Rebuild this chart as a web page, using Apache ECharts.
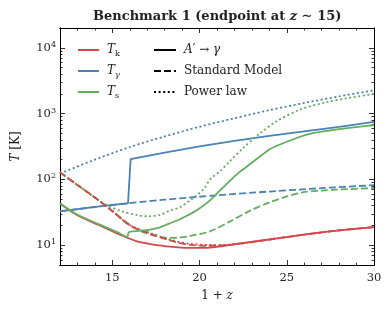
<!DOCTYPE html>
<html><head><meta charset="utf-8">
<script src="https://cdn.jsdelivr.net/npm/echarts@6/dist/echarts.min.js"></script>
<style>html,body{margin:0;padding:0;background:#fff}#c{width:391px;height:317px}</style>
</head><body><div id="c"></div>
<script>
// ---- data (1+z, temperature in K) ----
const zTkA  = [12, 13, 14.18, 15, 15.85, 16.47, 17.2, 18.3, 19.45, 20.6, 22.1, 24, 25.9, 27.9, 30];
const TkA   = [43, 28.5, 20.5, 16.3, 13.0, 11.3, 10.4, 9.5, 9.1, 9.2, 10.5, 12.2, 14.4, 16.7, 18.8];
const zTkSM = [12, 13, 14, 15, 16, 17.2, 18.3, 19.45, 20.6, 21.75, 24, 25.9, 27.9, 30];
const TkSM  = [128, 82, 53, 33, 20, 14.9, 11.8, 10.1, 9.8, 10.1, 12.2, 14.4, 16.7, 18.8];
const zTkPL = [12, 13, 14, 15, 16, 17.2, 18.3, 19.45, 20.6, 21.75, 24, 25.9, 27.9, 30];
const TkPL  = [128, 82, 53, 33, 20.3, 15.2, 12.1, 10.5, 10.1, 10.2, 12.2, 14.4, 16.7, 18.8];

const zTgA  = [12, 14, 15.9, 16.05, 18, 20, 22, 24, 26, 28, 30];
const TgA   = [32.7, 38.2, 43.3, 204, 256, 317, 385, 458, 537, 630, 748];
const zTgSM = [12, 15, 18, 21, 24, 27, 30];
const TgSM  = [32.7, 40.9, 49.1, 57.2, 65.4, 73.6, 81.8];
const zTgPL = [12, 14, 16, 18, 20, 22, 24, 26, 28, 30];
const TgPL  = [123, 200, 310, 450, 630, 850, 1130, 1450, 1830, 2265];

const zTsA  = [12, 13, 14.18, 15.3, 15.85, 15.95, 17, 17.73, 18.3, 18.9, 19.84, 20.6, 21.75, 22.3, 22.9, 24, 24.5, 25.76, 26.5, 28, 30];
const TsA   = [43, 29, 21.1, 15.7, 13.2, 15.8, 17, 18.7, 21.5, 25, 34, 48, 96, 130, 171, 285, 330, 445, 505, 580, 670];
const zTsSM = [12, 13, 14, 15, 16, 16.7, 17.5, 18.3, 18.9, 19.5, 20.6, 21.75, 22.9, 24.04, 25, 25.9, 27, 27.9, 30];
const TsSM  = [128, 82, 53, 33, 20.5, 16, 13.8, 12.9, 13.1, 13.9, 16.2, 23, 33.5, 45, 55, 63.5, 67.5, 70, 74];
const zTsPL = [12, 13, 14, 14.35, 14.75, 15.5, 16.47, 17.06, 17.73, 18.3, 18.9, 19.45, 19.84, 20.3, 20.6, 21.2, 21.75, 22.5, 23.5, 24.4, 25.76, 27.3, 28.5, 30];
const TsPL  = [128, 82, 53, 46, 40, 33, 28.5, 27.5, 29, 33.5, 38, 48, 57, 75, 100, 135, 190, 300, 510, 760, 1150, 1500, 1720, 1990];

const xMajor = [15, 20, 25, 30];
const xMinor = [13, 14, 16, 17, 18, 19, 21, 22, 23, 24, 26, 27, 28, 29];
const yMajor = [10, 100, 1000, 10000];
const yMinor = [6, 7, 8, 9, 20, 30, 40, 50, 60, 70, 80, 90, 200, 300, 400, 500, 600, 700, 800, 900,
                2000, 3000, 4000, 5000, 6000, 7000, 8000, 9000];

const RED = '#d3494b', BLUE = '#4b82b3', GREEN = '#63ad5f';
const FONT = 'DejaVu Serif';
const SOLID = 'solid', DASH = [7, 3], DOT = [2, 2.6];
const TXT = '#222';

function pairs(zs, vs) { return zs.map((z, i) => [z, vs[i]]); }

const mathRich = {
  i: { fontFamily: FONT, fontStyle: 'italic', fontSize: 12, color: TXT, lineHeight: 16 },
  sub: { fontFamily: FONT, fontSize: 8, color: TXT, verticalAlign: 'bottom', lineHeight: 16 },
  subi: { fontFamily: FONT, fontStyle: 'italic', fontSize: 8, color: TXT, verticalAlign: 'bottom', lineHeight: 16 },
  sup: { fontFamily: FONT, fontSize: 8, color: TXT, verticalAlign: 'top', lineHeight: 14 },
  r: { fontFamily: FONT, fontSize: 12, color: TXT, lineHeight: 16 },
  rt: { fontFamily: FONT, fontSize: 11.5, color: TXT, lineHeight: 14 }
};

function curve(name, zs, vs, color, dash) {
  return {
    type: 'line', name: name, data: pairs(zs, vs), symbol: 'none',
    smooth: 0.3, silent: true,
    lineStyle: { color: color, width: 1.8, type: dash, cap: 'butt' },
    itemStyle: { color: color }, z: 3
  };
}
function dummy(name, color, dash) {
  return { type: 'line', name: name, data: [[12, null]], symbol: 'none', showSymbol: false,
    lineStyle: { color: color, width: 2, type: dash }, itemStyle: { color: color } };
}

const axisLineBlack = { show: true, lineStyle: { color: '#000', width: 1 } };
function xAx(pos, vals, len, labels) {
  return { type: 'value', min: 12, max: 30, position: pos, splitLine: { show: false },
    axisLine: axisLineBlack,
    axisTick: { show: true, inside: true, length: len, customValues: vals, lineStyle: { color: '#000', width: 0.8 } },
    axisLabel: labels ? { show: true, customValues: vals, fontFamily: FONT, fontSize: 11.5, color: TXT, margin: 7 } : { show: false } };
}
function yAx(pos, vals, len, labels) {
  return { type: 'log', logBase: 10, min: 5, max: 20000, position: pos, splitLine: { show: false },
    axisLine: axisLineBlack,
    axisTick: { show: true, inside: true, length: len, customValues: vals, lineStyle: { color: '#000', width: 0.8 } },
    axisLabel: labels ? { show: true, customValues: vals, margin: 4,
      formatter: v => '{rt|10}{sup|' + Math.round(Math.log10(v)) + '}', rich: mathRich } : { show: false } };
}

const xAxes = [xAx('bottom', xMajor, 5, true), xAx('bottom', xMinor, 2.5, false),
               xAx('top', xMajor, 5, false), xAx('top', xMinor, 2.5, false)];
xAxes[0].name = '1 + {i|z}';
xAxes[0].nameLocation = 'middle';
xAxes[0].nameGap = 25;
xAxes[0].nameTextStyle = { fontFamily: FONT, fontSize: 12, color: TXT, rich: { i: { fontFamily: FONT, fontStyle: 'italic', fontSize: 12, color: TXT } } };
const yAxes = [yAx('left', yMajor, 5, true), yAx('left', yMinor, 2.5, false),
               yAx('right', yMajor, 5, false), yAx('right', yMinor, 2.5, false)];
yAxes[0].name = '{i|T} [K]';
yAxes[0].nameLocation = 'middle';
yAxes[0].nameRotate = 90;
yAxes[0].nameGap = 38;
yAxes[0].nameTextStyle = { fontFamily: FONT, fontSize: 12, color: TXT, rich: { i: { fontFamily: FONT, fontStyle: 'italic', fontSize: 12, color: TXT } } };

const legendNames = {
  Tk: '{i|T}{sub|k}', Tg: '{i|T}{subi|γ}', Ts: '{i|T}{sub|s}',
  A: '{i|A}{r|′ → }{i|γ}', SM: '{r|Standard Model}', PL: '{r|Power law}'
};
function legend(left, width, names) {
  return { show: true, orient: 'vertical', left: left, top: 37, itemWidth: width, itemHeight: 16, itemGap: 5,
    selectedMode: false, data: names, formatter: n => legendNames[n],
    itemStyle: { opacity: 0 },
    textStyle: { fontFamily: FONT, fontSize: 12, color: TXT, lineHeight: 16, padding: [0, 0, 0, 3], rich: mathRich } };
}

const option = {
  animation: false,
  backgroundColor: '#fff',
  title: { text: 'Benchmark 1 (endpoint at {i|z} ∼ 15)', left: 88, top: 5,
    textStyle: { fontFamily: FONT, fontWeight: 'bold', fontSize: 13, color: TXT,
      rich: { i: { fontFamily: FONT, fontStyle: 'italic', fontSize: 13, color: TXT } } } },
  grid: { left: 60, right: 17, top: 28, bottom: 52 },
  xAxis: xAxes,
  yAxis: yAxes,
  legend: [legend(72, 21, ['Tk', 'Tg', 'Ts']), legend(148, 22, ['A', 'SM', 'PL'])],
  series: [
    curve('c1', zTgSM, TgSM, BLUE, DASH),
    curve('c2', zTgPL, TgPL, BLUE, DOT),
    Object.assign(curve('c3', zTgA, TgA, BLUE, SOLID), { smooth: false }),
    curve('c7', zTkPL, TkPL, RED, DOT),
    curve('c4', zTsSM, TsSM, GREEN, DASH),
    curve('c5', zTsPL, TsPL, GREEN, DOT),
    curve('c6', zTkSM, TkSM, RED, DASH),
    curve('c8', zTkA, TkA, RED, SOLID),
    Object.assign(curve('c9', zTsA, TsA, GREEN, SOLID), { smooth: 0.2 }),
    dummy('Tk', RED, SOLID), dummy('Tg', BLUE, SOLID), dummy('Ts', GREEN, SOLID),
    dummy('A', '#000', SOLID), dummy('SM', '#000', DASH), dummy('PL', '#000', DOT)
  ]
};
const chart = echarts.init(document.getElementById('c'), null, { renderer: 'canvas' });
chart.setOption(option);
</script></body></html>
